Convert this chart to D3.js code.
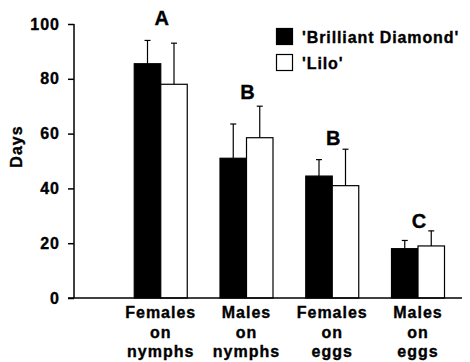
<!DOCTYPE html>
<html><head><meta charset="utf-8">
<script src="https://cdn.jsdelivr.net/npm/d3@7"></script>
<style>
html,body{margin:0;padding:0;background:#fff;}
svg{display:block;}
text{font-family:"Liberation Sans",Arial,Helvetica,sans-serif;font-weight:bold;fill:#000;stroke:#000;stroke-width:0.35px;}
</style></head>
<body>
<svg id="chart" width="470" height="362"></svg>
<script>
const categories = [["Females","on","nymphs"],["Males","on","nymphs"],["Females","on","eggs"],["Males","on","eggs"]];
const seriesNames = ["'Brilliant Diamond'", "'Lilo'"];
const brilliantDiamond = [85.5, 51, 44.5, 18];
const brilliantDiamondErr = [8.5, 12.5, 6, 3];
const lilo = [78, 58.5, 41, 19];
const liloErr = [15, 11.5, 13.3, 5.5];
const groupLetters = ["A", "B", "B", "C"];
const letterLevels = [99.6, 72.8, 55.8, 25.5];
const yTicks = [0, 20, 40, 60, 80, 100];

const svg = d3.select("#chart");
const catKeys = categories.map(c => c.join(" "));
const x0 = d3.scalePoint().domain(["", ...catKeys]).range([75, 418]);
const x1 = d3.scaleBand().domain(seriesNames).range([-26.5, 26.5]);
const y = d3.scaleLinear().domain([0, 100]).range([298, 24]);

const series = [
  {name: seriesNames[0], vals: brilliantDiamond, err: brilliantDiamondErr, fill: "#000"},
  {name: seriesNames[1], vals: lilo, err: liloErr, fill: "#fff"}
];

// y axis
const yAxis = svg.append("g").attr("transform", "translate(74,0)")
  .call(d3.axisLeft(y).tickValues(yTicks).tickSize(6).tickPadding(8));
yAxis.select(".domain").attr("stroke", "#000").attr("stroke-width", 1.5).attr("d", "M0,24V298");
yAxis.selectAll(".tick line").attr("stroke", "#000").attr("stroke-width", 1.5);
yAxis.selectAll(".tick text").attr("font-size", 16).attr("letter-spacing", 1)
  .style("font-family", '"Liberation Sans",Arial,sans-serif').style("font-weight", "bold")
  .attr("fill", "#000").attr("stroke", "#000").attr("stroke-width", 0.35);

// bars
series.forEach(s => {
  const g = svg.append("g");
  catKeys.forEach((k, i) => {
    const cx = x0(k) + x1(s.name);
    const w = x1.bandwidth();
    g.append("rect").attr("x", cx).attr("y", y(s.vals[i]))
      .attr("width", w).attr("height", y(0) - y(s.vals[i]))
      .attr("fill", s.fill).attr("stroke", "#000").attr("stroke-width", 1.2);
    const mx = cx + w / 2;
    g.append("line").attr("x1", mx).attr("x2", mx)
      .attr("y1", y(s.vals[i])).attr("y2", y(s.vals[i] + s.err[i]))
      .attr("stroke", "#000").attr("stroke-width", 1.2);
    g.append("line").attr("x1", mx - 3).attr("x2", mx + 3)
      .attr("y1", y(s.vals[i] + s.err[i])).attr("y2", y(s.vals[i] + s.err[i]))
      .attr("stroke", "#000").attr("stroke-width", 1.2);
  });
});

// x baseline
svg.append("line").attr("x1", 68).attr("x2", 462).attr("y1", y(0)).attr("y2", y(0))
  .attr("stroke", "#000").attr("stroke-width", 1.5);

// category labels
categories.forEach((c, i) => {
  const t = svg.append("text").attr("x", x0(catKeys[i])).attr("y", 318)
    .attr("text-anchor", "middle").attr("font-size", 16).attr("letter-spacing", 1);
  c.forEach((line, j) => {
    t.append("tspan").attr("x", x0(catKeys[i])).attr("dy", j === 0 ? 0 : 19.5).text(line);
  });
});

// significance letters
groupLetters.forEach((L, i) => {
  svg.append("text").attr("x", x0(catKeys[i]) + 1).attr("y", y(letterLevels[i]))
    .attr("text-anchor", "middle").attr("font-size", 20).text(L);
});

// y title
svg.append("text").attr("transform", "translate(22,146.5) rotate(-90)")
  .attr("text-anchor", "middle").attr("font-size", 16).attr("letter-spacing", 1).text("Days");

// legend
const leg = svg.append("g");
series.forEach((s, i) => {
  leg.append("rect").attr("x", 276.5).attr("y", 28.5 + i * 26).attr("width", 16).attr("height", 16)
    .attr("fill", s.fill).attr("stroke", "#000").attr("stroke-width", 1.2);
  leg.append("text").attr("x", 302).attr("y", 42.5 + i * 26).attr("font-size", 16)
    .attr("letter-spacing", 0.9).text(s.name);
});
</script>
</body></html>
